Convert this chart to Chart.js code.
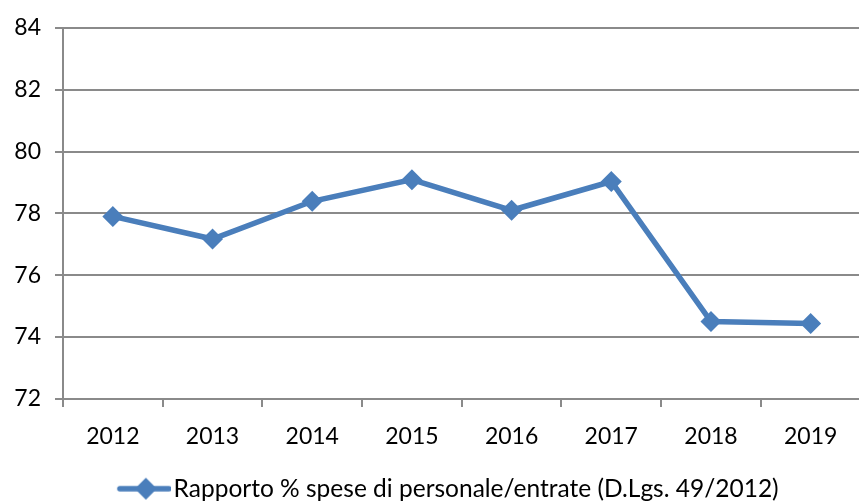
<!DOCTYPE html>
<html>
<head>
<meta charset="utf-8">
<script src="https://cdn.jsdelivr.net/npm/chart.js@4.4.1/dist/chart.umd.min.js"></script>
<style>
  html, body { margin: 0; padding: 0; background: #fff; overflow: hidden; }
  #wrap { width: 871px; height: 503px; position: relative; }
</style>
</head>
<body>
<div id="wrap"><canvas id="myChart"></canvas></div>
<script>
const anni = ['2012', '2013', '2014', '2015', '2016', '2017', '2018', '2019'];
const rapporto = [77.9, 77.17, 78.39, 79.09, 78.1, 79.03, 74.5, 74.44];
const yMin = 72, yMax = 84, yStep = 2;
const nomeSerie = 'Rapporto % spese di personale/entrate (D.Lgs. 49/2012)';

const blu = '#4a7ebb';
const grigio = '#8a8a8a';
const font = 'Lato';

// icona della legenda: linea + rombo (parte sinistra trasparente)
const icona = document.createElement('canvas');
icona.width = 88; icona.height = 24;
(() => {
    const c = icona.getContext('2d');
    c.strokeStyle = blu; c.lineWidth = 5.5; c.lineCap = 'round';
    c.beginPath(); c.moveTo(37, 12); c.lineTo(86, 12); c.stroke();
    c.fillStyle = blu;
    c.beginPath(); c.moveTo(63, 1); c.lineTo(74, 12); c.lineTo(63, 23); c.lineTo(52, 12); c.closePath(); c.fill();
})();

const ctx = document.getElementById('myChart').getContext('2d');
new Chart(ctx, {
    type: 'line',
    data: {
        labels: anni,
        datasets: [{
            label: nomeSerie,
            data: rapporto,
            borderColor: blu,
            backgroundColor: blu,
            borderWidth: 5.5,
            pointStyle: 'rectRot',
            pointRadius: 10.5,
            pointHoverRadius: 10.5,
            pointBackgroundColor: blu,
            pointBorderColor: blu,
            pointBorderWidth: 0,
            tension: 0
        }]
    },
    options: {
        responsive: true,
        maintainAspectRatio: false,
        animation: false,
        layout: { padding: { top: 16, left: 0, right: 0, bottom: -8 } },
        plugins: {
            tooltip: { enabled: false },
            legend: {
                position: 'bottom',
                labels: {
                    usePointStyle: true,
                    pointStyleWidth: 69,
                    color: '#000',
                    font: { family: font, size: 24.5 },
                    padding: 6,
                    generateLabels: (chart) => [{
                        text: nomeSerie,
                        pointStyle: icona,
                        fillStyle: blu,
                        strokeStyle: blu,
                        lineWidth: 0,
                        datasetIndex: 0
                    }]
                }
            }
        },
        scales: {
            x: {
                offset: true,
                afterFit: (scale) => { scale.height += 4; },
                grid: { offset: true, drawOnChartArea: false, color: grigio, lineWidth: 2, tickLength: 8 },
                border: { color: grigio, width: 2 },
                ticks: { color: '#000', font: { family: font, size: 23 }, padding: 16, maxRotation: 0 }
            },
            y: {
                min: yMin, max: yMax,
                afterFit: (scale) => { scale.width = 63; },
                grid: { color: grigio, lineWidth: 2, tickLength: 8 },
                border: { color: grigio, width: 2 },
                ticks: { stepSize: yStep, color: '#000', font: { family: font, size: 23 }, padding: 14 }
            }
        }
    }
});
</script>
</body>
</html>
